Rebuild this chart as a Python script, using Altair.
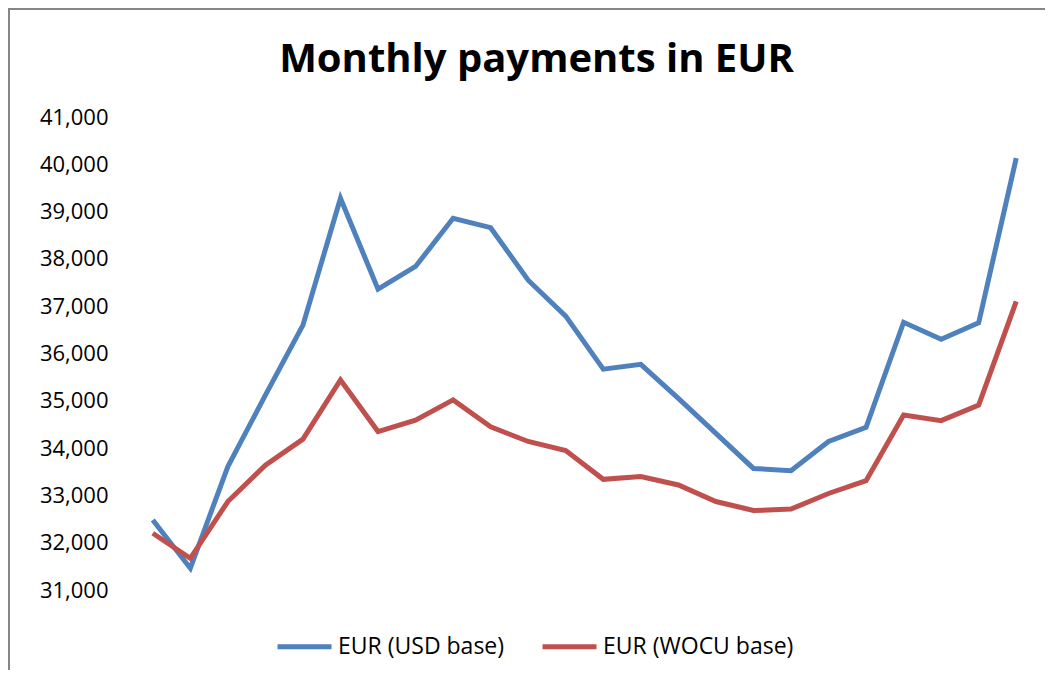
import altair as alt
import pandas as pd

months = list(range(1, 25))
usd_base = [32480, 31460, 33610, 35120, 36600, 39280, 37360, 37840, 38860, 38660,
            37550, 36790, 35670, 35770, 35050, 34310, 33570, 33520, 34140, 34440,
            36660, 36300, 36650, 40130]
wocu_base = [32200, 31670, 32870, 33640, 34190, 35440, 34350, 34590, 35020, 34450,
             34140, 33950, 33340, 33400, 33220, 32870, 32680, 32710, 33040, 33310,
             34700, 34580, 34910, 37100]
series_names = ["EUR (USD base)", "EUR (WOCU base)"]
series_colors = ["#4F81BD", "#C0504D"]
y_ticks = list(range(31000, 41001, 1000))

df = pd.DataFrame({
    "month": months * 2,
    "value": usd_base + wocu_base,
    "series": [series_names[0]] * len(months) + [series_names[1]] * len(months),
})

FONT = "Open Sans"

lines = alt.Chart(df).mark_line(strokeWidth=5).encode(
    x=alt.X("month:O", axis=None, scale=alt.Scale(type="point", padding=0.5)),
    y=alt.Y(
        "value:Q",
        scale=alt.Scale(domain=[31000, 41000], nice=False, zero=False),
        axis=alt.Axis(values=y_ticks, format=",d", title=None, grid=False,
                      domain=False, ticks=False, labelPadding=26,
                      labelFontSize=22, labelFont=FONT, labelColor="#000000"),
    ),
    color=alt.Color(
        "series:N",
        scale=alt.Scale(domain=series_names, range=series_colors),
        legend=alt.Legend(title=None, orient="none", legendX=141, legendY=500,
                          direction="horizontal", symbolType="stroke",
                          symbolSize=2916, symbolStrokeWidth=5,
                          labelFontSize=23, labelFont=FONT, labelColor="#000000",
                          columnPadding=27, labelOffset=4, labelLimit=400),
    ),
    order="month:O",
)

frame_src = alt.Chart(pd.DataFrame({"k": [0]}))
top_border = frame_src.mark_rule(color="#868686", strokeWidth=2).encode(
    x=alt.value(-126), x2=alt.value(911), y=alt.value(-108))
left_border = frame_src.mark_rule(color="#868686", strokeWidth=2).encode(
    x=alt.value(-125), y=alt.value(-109), y2=alt.value(560))

chart = alt.layer(lines, top_border, left_border).properties(
    width=901,
    height=473,
    background="white",
    autosize=alt.AutoSizeParams(type="none"),
    padding={"left": 126, "top": 109, "right": 10, "bottom": 80},
    title=alt.Title("Monthly payments in EUR", font=FONT, fontSize=40,
                    fontWeight="bold", anchor="middle", frame="group",
                    dx=-48, offset=-73, color="#000000"),
).configure_view(stroke="transparent", strokeWidth=0)

chart.save("out.html", embed_options={"renderer": "svg", "actions": False})
